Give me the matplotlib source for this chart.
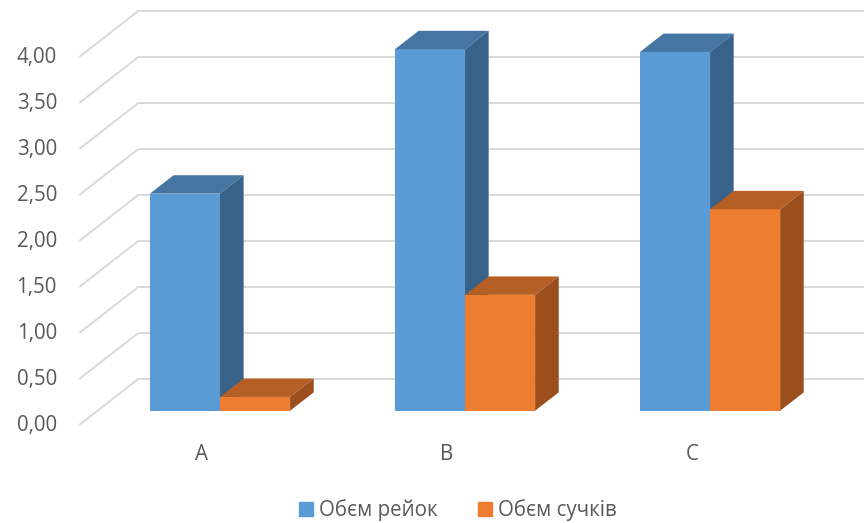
import numpy as np
import matplotlib
matplotlib.use("Agg")
import matplotlib.pyplot as plt
from matplotlib.patches import Patch

# ── data ──────────────────────────────────────────────────────────────────────
categories = ["A", "B", "C"]
series_names = ["Обєм рейок", "Обєм сучків"]
vol_rails = [2.36, 3.93, 3.90]
vol_knots = [0.15, 1.26, 2.19]
y_ticks = [0.0, 0.5, 1.0, 1.5, 2.0, 2.5, 3.0, 3.5, 4.0]
y_tick_labels = ["0,00", "0,50", "1,00", "1,50", "2,00", "2,50", "3,00", "3,50", "4,00"]

# ── styling / pseudo-3D geometry ──────────────────────────────────────────────
plt.rcParams["font.family"] = ["Open Sans", "DejaVu Sans"]
TXT = "#595959"
GRID = "#D9D9D9"
FACE = [("#5B9BD5", "#4575A1", "#39628A"),   # front, top, side
        ("#ED7D31", "#B55F24", "#9B4F1C")]

DEPTH_DX, DEPTH_DY = 0.241, 0.5   # full floor depth in data units
D_FRONT, D_BACK = 0.31, 0.71      # bar front / back position in depth
BAR_W = 0.286
FS = 14.8

fig = plt.figure(figsize=(8.64, 5.23), dpi=100)
ax = fig.add_axes([79.2 / 864, 98 / 523, (864 - 79.2) / 864, 425 / 523])
ax.set_xlim(-0.5, 2.703)
ax.set_ylim(0, 4.62)
for sp in ax.spines.values():
    sp.set_visible(False)

# gridlines: slanted along the side wall, then flat on the back wall
x0 = -0.5
for v in y_ticks:
    ax.plot([x0, x0 + DEPTH_DX, 3.2], [v, v + DEPTH_DY, v + DEPTH_DY],
            color=GRID, lw=1.4, zorder=1, clip_on=False, solid_capstyle="butt")


def draw_bar(xl, h, colors):
    fx, fy = D_FRONT * DEPTH_DX, D_FRONT * DEPTH_DY
    bx, by = D_BACK * DEPTH_DX, D_BACK * DEPTH_DY
    front, top, side = colors
    ax.bar(xl + fx, h, width=BAR_W, bottom=fy, align="edge",
           color=front, linewidth=0, zorder=3)
    ax.fill([xl + fx, xl + BAR_W + fx, xl + BAR_W + bx, xl + bx],
            [h + fy, h + fy, h + by, h + by], color=top, lw=0, zorder=3)
    ax.fill([xl + BAR_W + fx, xl + BAR_W + bx, xl + BAR_W + bx, xl + BAR_W + fx],
            [fy, by, h + by, h + fy], color=side, lw=0, zorder=3)


for i in range(len(categories)):
    draw_bar(i - BAR_W, vol_rails[i], FACE[0])
    draw_bar(i, vol_knots[i], FACE[1])

ax.set_yticks(y_ticks)
ax.set_yticklabels(y_tick_labels, va="center")
ax.set_xticks(range(len(categories)))
ax.set_xticklabels(categories)
ax.tick_params(axis="y", length=0, pad=16, labelsize=FS, labelcolor=TXT)
ax.tick_params(axis="x", length=0, pad=14, labelsize=FS, labelcolor=TXT)
for lbl in ax.get_yticklabels():
    lbl.set_y(lbl.get_position()[1])

handles = [Patch(color=FACE[k][0], label=series_names[k]) for k in range(2)]
fig.legend(handles=handles, loc="center", bbox_to_anchor=(0.53, 0.025),
           ncol=2, frameon=False, fontsize=FS, labelcolor=TXT,
           handlelength=0.65, handleheight=0.65, handletextpad=0.3,
           columnspacing=2.0)

fig.savefig("out.png", dpi=100)
plt.close(fig)
